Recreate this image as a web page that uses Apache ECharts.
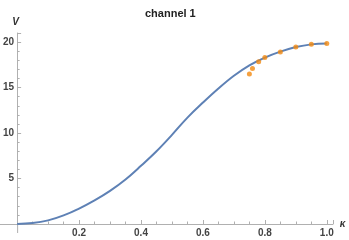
<!DOCTYPE html>
<html><head><meta charset="utf-8">
<script src="https://cdn.jsdelivr.net/npm/echarts@6/dist/echarts.min.js"></script>
<style>html,body{margin:0;padding:0;background:#fff}#c{width:349px;height:240px}</style>
</head><body><div id="c"></div>
<script>
var curveK = [0,0.05,0.1,0.15,0.2,0.25,0.3,0.35,0.4,0.45,0.5,0.55,0.6,0.65,0.7,0.75,0.8,0.85,0.9,0.95,1.0];
var curveV = [0,0.1,0.4,0.95,1.7,2.6,3.65,4.9,6.4,8.0,9.8,11.7,13.35,14.9,16.3,17.45,18.3,18.95,19.45,19.75,19.85];
var dotK = [0.75,0.76,0.78,0.80,0.85,0.90,0.95,1.0];
var dotV = [16.5,17.1,17.85,18.3,18.9,19.45,19.75,19.85];
var xTicks = [0.2,0.4,0.6,0.8,1.0];
var yTicks = [5,10,15,20];

var chart = echarts.init(document.getElementById('c'), null, {renderer:'canvas'});
var axisGray = '#b0b0b0';
var labelStyle = {color:'#444', fontSize:10, fontWeight:'bold', fontFamily:'Liberation Sans, Arial, sans-serif'};
function pairs(a,b){return a.map(function(v,i){return [v,b[i]];});}
function inList(list,v){return list.some(function(t){return Math.abs(t-v)<1e-6;});}
chart.setOption({
  animation:false,
  title:{text:'channel 1', left:140, top:3,
    textStyle:{fontSize:11, fontWeight:'bold', color:'#222', fontFamily:'Liberation Sans, Arial, sans-serif'}},
  grid:{left:14, right:16, top:33, bottom:16, containLabel:false},
  xAxis:{type:'value', min:0, max:1.02, interval:0.2,
    name:'κ', nameLocation:'end', nameGap:6,
    nameTextStyle:{fontStyle:'italic', fontWeight:'bold', fontSize:10, color:'#333', verticalAlign:'middle', padding:[6,0,0,0]},
    axisLine:{show:true, onZero:false, lineStyle:{color:axisGray, width:1}},
    axisTick:{show:true, inside:true, length:4, lineStyle:{color:axisGray}},
    minorTick:{show:true, splitNumber:4, length:2.5, lineStyle:{color:axisGray}},
    splitLine:{show:false},
    axisLabel:Object.assign({margin:4, showMinLabel:false, showMaxLabel:false,
      formatter:function(v){return inList(xTicks,v)? v.toFixed(1):'';}}, labelStyle)},
  yAxis:{type:'value', min:0, max:21, interval:5,
    name:'V', nameLocation:'end', nameGap:6,
    nameTextStyle:{fontStyle:'italic', fontWeight:'bold', fontSize:10, color:'#333', align:'center', padding:[0,3,0,0]},
    axisLine:{show:true, onZero:false, lineStyle:{color:axisGray, width:1}},
    axisTick:{show:true, inside:true, length:4, lineStyle:{color:axisGray}},
    minorTick:{show:true, splitNumber:5, length:2.5, lineStyle:{color:axisGray}},
    splitLine:{show:false},
    axisLabel:Object.assign({margin:3, showMinLabel:false, showMaxLabel:false,
      formatter:function(v){return inList(yTicks,v)? String(v):'';}}, labelStyle)},
  series:[
    {type:'line', data:pairs(curveK,curveV), smooth:0.4, showSymbol:false,
      lineStyle:{color:'#5E81B5', width:2}, z:2},
    {type:'scatter', data:pairs(dotK,dotV), symbolSize:5,
      itemStyle:{color:'#F28A10'}, z:3}
  ]
});
// extend axis lines slightly past the origin, as in the reference frame
var o = chart.convertToPixel({gridIndex:0}, [0,0]);
chart.setOption({graphic:[
  {type:'line', shape:{x1:0, y1:o[1]+0.5, x2:o[0], y2:o[1]+0.5}, style:{stroke:axisGray, lineWidth:1}, silent:true},
  {type:'line', shape:{x1:o[0]+0.5, y1:o[1], x2:o[0]+0.5, y2:o[1]+9}, style:{stroke:axisGray, lineWidth:1}, silent:true}
]});
</script></body></html>
